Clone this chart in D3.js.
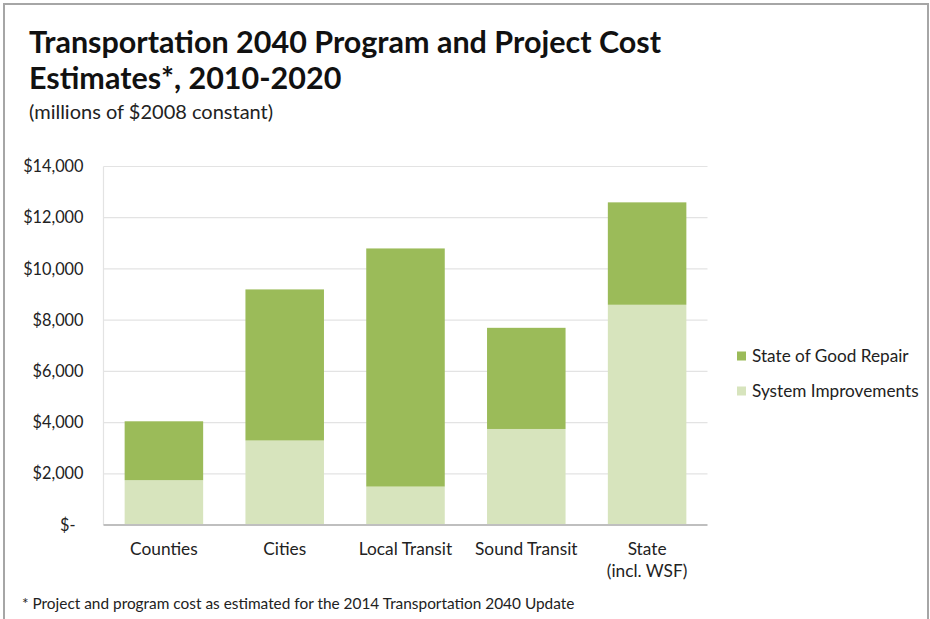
<!DOCTYPE html>
<html>
<head>
<meta charset="utf-8">
<script src="https://cdn.jsdelivr.net/npm/d3@7"></script>
<style>
  body { margin: 0; background: #fff; }
  svg { display: block; font-family: Lato, "Open Sans", sans-serif; }
</style>
</head>
<body>
<svg id="chart" width="930" height="619"></svg>
<script>
// data (millions of $2008)
var categories = ["Counties", "Cities", "Local Transit", "Sound Transit", "State\n(incl. WSF)"];
var systemImprovements = [1750, 3300, 1500, 3750, 8600];
var stateOfGoodRepair = [2300, 5900, 9300, 3950, 4000];
var yTicks = [0, 2000, 4000, 6000, 8000, 10000, 12000, 14000];
var seriesNames = ["State of Good Repair", "System Improvements"];
var seriesColors = ["#9BBB59", "#D7E4BD"];

var margin = { top: 166.5, left: 103.5, right: 222.5, bottom: 94 },
    width = 930 - margin.left - margin.right,
    height = 619 - margin.top - margin.bottom;

var svg = d3.select("#chart");

// outer frame
svg.append("rect").attr("x", 4).attr("y", 4).attr("width", 924).attr("height", 640)
    .attr("fill", "none").attr("stroke", "#a6a6a6").attr("stroke-width", 2);

// titles
svg.append("text").attr("x", 29).attr("y", 53).attr("font-size", 30.5).attr("font-weight", "bold").attr("fill", "#111")
    .text("Transportation 2040 Program and Project Cost");
svg.append("text").attr("x", 29).attr("y", 89).attr("font-size", 30.5).attr("font-weight", "bold").attr("fill", "#111")
    .text("Estimates*, 2010-2020");
svg.append("text").attr("x", 29).attr("y", 119).attr("font-size", 20).attr("fill", "#222")
    .text("(millions of $2008 constant)");

var g = svg.append("g").attr("transform", "translate(" + margin.left + "," + margin.top + ")");

var x = d3.scaleBand().domain(categories).range([0, width]).paddingInner(0.35).paddingOuter(0.175);
var y = d3.scaleLinear().domain([0, 14000]).range([height, 0]);

// gridlines
g.selectAll(".grid").data(yTicks.filter(d => d > 0)).join("line").attr("class", "grid")
    .attr("x1", 0).attr("x2", width).attr("y1", d => y(d)).attr("y2", d => y(d))
    .attr("stroke", "#e3e3e3").attr("stroke-width", 1.2);
g.append("line").attr("x1", 0).attr("x2", 0).attr("y1", 0).attr("y2", height)
    .attr("stroke", "#e3e3e3").attr("stroke-width", 1.2);

// stacked bars
var rows = categories.map((c, i) => ({ cat: c, si: systemImprovements[i], sgr: stateOfGoodRepair[i] }));
var stack = d3.stack().keys(["si", "sgr"])(rows);
var colorByKey = { si: seriesColors[1], sgr: seriesColors[0] };
g.selectAll(".layer").data(stack).join("g").attr("class", "layer")
    .attr("fill", d => colorByKey[d.key])
    .selectAll("rect").data(d => d).join("rect")
    .attr("x", d => x(d.data.cat)).attr("width", x.bandwidth())
    .attr("y", d => y(d[1])).attr("height", d => y(d[0]) - y(d[1]));

// baseline
g.append("line").attr("x1", 0).attr("x2", width).attr("y1", height).attr("y2", height)
    .attr("stroke", "#bfbfbf").attr("stroke-width", 2);

// y axis labels
var fmt = d3.format(",");
g.selectAll(".ylab").data(yTicks).join("text").attr("class", "ylab")
    .attr("x", d => d === 0 ? -28 : -20).attr("y", d => y(d)).attr("dy", "0.35em")
    .attr("text-anchor", "end").attr("font-size", 16.3).attr("fill", "#222")
    .text(d => d === 0 ? "$-" : "$" + fmt(d));

// x axis labels
g.selectAll(".xlab").data(categories).join("text").attr("class", "xlab")
    .attr("text-anchor", "middle").attr("font-size", 17.3).attr("fill", "#222")
    .attr("transform", d => "translate(" + (x(d) + x.bandwidth() / 2) + "," + (height + 30) + ")")
    .selectAll("tspan").data(d => d.split("\n")).join("tspan")
    .attr("x", 0).attr("dy", (d, i) => i === 0 ? 0 : 22).text(d => d);

// legend
var legend = svg.append("g").attr("transform", "translate(737,356)");
legend.selectAll("rect").data(seriesNames).join("rect")
    .attr("x", 0).attr("y", (d, i) => i * 35 - 4.5).attr("width", 9).attr("height", 9)
    .attr("fill", (d, i) => seriesColors[i]);
legend.selectAll("text").data(seriesNames).join("text")
    .attr("x", 15).attr("y", (d, i) => i * 35).attr("dy", "0.35em")
    .attr("font-size", 17.2).attr("fill", "#222").text(d => d);

// footnote
svg.append("text").attr("x", 22).attr("y", 609).attr("font-size", 15.4).attr("fill", "#222")
    .text("* Project and program cost as estimated for the 2014 Transportation 2040 Update");
</script>
</body>
</html>
